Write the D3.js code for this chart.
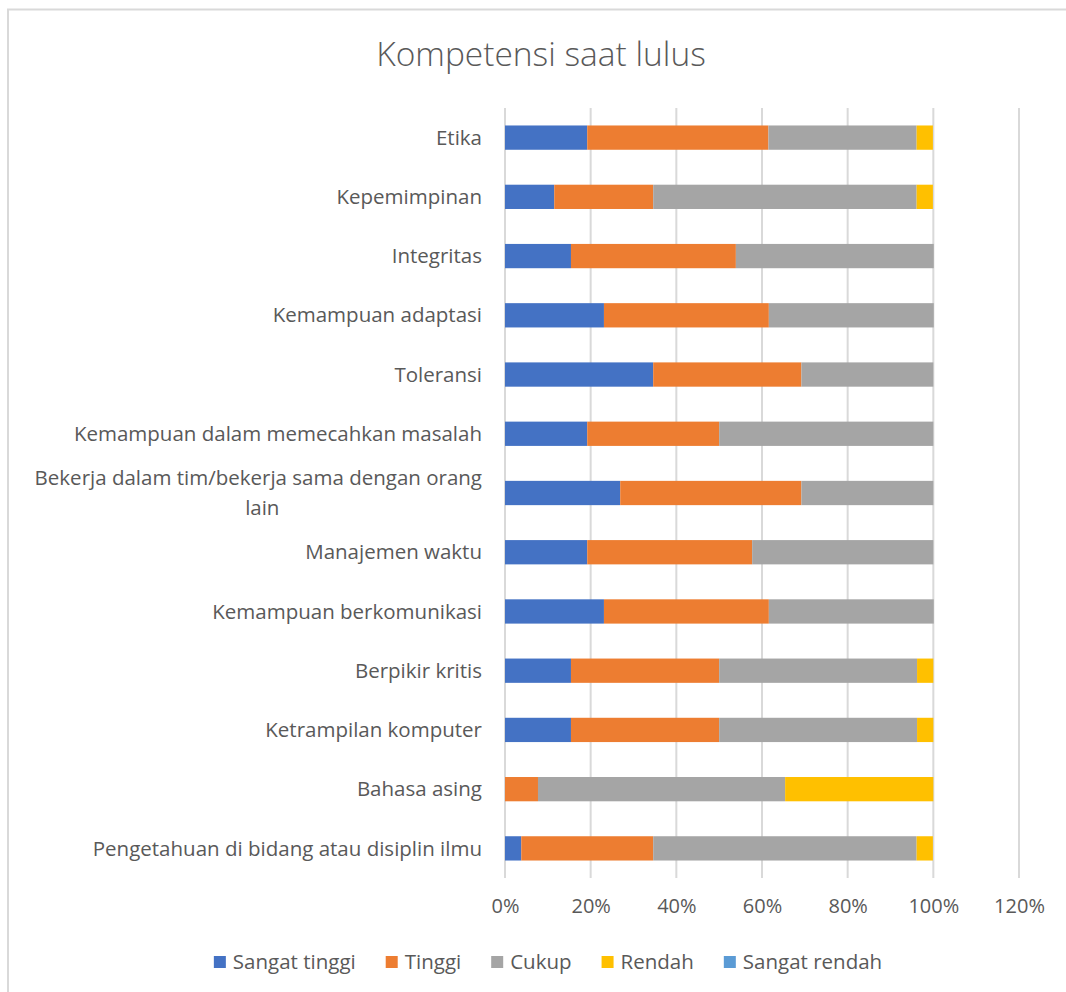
<!DOCTYPE html>
<html>
<head>
    <meta charset="utf-8">
    <title>Kompetensi saat lulus</title>
    <script src="https://d3js.org/d3.v7.min.js"></script>
    <style>
        body { margin: 0; background: #fff; }
        text { font-family: "Open Sans", "Noto Sans", sans-serif; fill: #595959; }
    </style>
</head>
<body>
<div id="chart"></div>

<script type="text/javascript">
    // categories, top to bottom
    let categories = [
        "Etika",
        "Kepemimpinan",
        "Integritas",
        "Kemampuan adaptasi",
        "Toleransi",
        "Kemampuan dalam memecahkan masalah",
        "Bekerja dalam tim/bekerja sama dengan orang lain",
        "Manajemen waktu",
        "Kemampuan berkomunikasi",
        "Berpikir kritis",
        "Ketrampilan komputer",
        "Bahasa asing",
        "Pengetahuan di bidang atau disiplin ilmu"
    ];

    let seriesNames = ["Sangat tinggi", "Tinggi", "Cukup", "Rendah", "Sangat rendah"];
    let seriesColors = ["#4472C4", "#ED7D31", "#A5A5A5", "#FFC000", "#5B9BD5"];

    // values in percent, same order as categories
    let sangatTinggi = [19.2, 11.5, 15.4, 23.1, 34.6, 19.2, 26.9, 19.2, 23.1, 15.4, 15.4, 0, 3.8];
    let tinggi       = [42.3, 23.1, 38.5, 38.5, 34.6, 30.8, 42.3, 38.5, 38.5, 34.6, 34.6, 7.7, 30.8];
    let cukup        = [34.6, 61.5, 46.2, 38.5, 30.8, 50.0, 30.8, 42.3, 38.5, 46.2, 46.2, 57.7, 61.5];
    let rendah       = [3.8, 3.8, 0, 0, 0, 0, 0, 0, 0, 3.8, 3.8, 34.6, 3.8];
    let sangatRendah = [0, 0, 0, 0, 0, 0, 0, 0, 0, 0, 0, 0, 0];

    let tickValues = [0, 20, 40, 60, 80, 100, 120];

    let W = 1066, H = 992;
    let margin = {top: 108, left: 505, right: 47, bottom: 114};

    let svg = d3.select("#chart")
        .append("svg")
            .attr("width", W)
            .attr("height", H);

    // outer chart border
    svg.append("rect")
        .attr("x", 8)
        .attr("y", 9.5)
        .attr("width", W + 20)
        .attr("height", H + 20)
        .attr("fill", "none")
        .attr("stroke", "#d9d9d9")
        .attr("stroke-width", 2);

    svg.append("text")
        .attr("x", 541)
        .attr("y", 66)
        .attr("text-anchor", "middle")
        .attr("font-size", "33.5px")
        .attr("font-weight", 300)
        .text("Kompetensi saat lulus");

    let data = categories.map(function (c, i) {
        return {
            cat: c,
            "Sangat tinggi": sangatTinggi[i],
            "Tinggi": tinggi[i],
            "Cukup": cukup[i],
            "Rendah": rendah[i],
            "Sangat rendah": sangatRendah[i]
        };
    });

    let stacked = d3.stack().keys(seriesNames)(data);

    let xScale = d3.scaleLinear()
        .domain([0, 120])
        .range([margin.left, W - margin.right]);

    let yScale = d3.scaleBand()
        .domain(categories)
        .range([margin.top, H - margin.bottom])
        .paddingInner(0.59)
        .paddingOuter(0.295);

    let color = d3.scaleOrdinal().domain(seriesNames).range(seriesColors);

    // gridlines
    svg.append("g")
        .selectAll("line")
        .data(tickValues)
        .enter()
        .append("line")
            .attr("x1", function (d) { return xScale(d); })
            .attr("x2", function (d) { return xScale(d); })
            .attr("y1", margin.top)
            .attr("y2", H - margin.bottom)
            .attr("stroke", "#d9d9d9")
            .attr("stroke-width", 2);

    // bars
    svg.append("g")
        .selectAll("g")
        .data(stacked)
        .enter()
        .append("g")
            .attr("fill", function (d) { return color(d.key); })
        .selectAll("rect")
        .data(function (d) { return d; })
        .enter()
        .append("rect")
            .attr("x", function (d) { return xScale(d[0]); })
            .attr("y", function (d) { return yScale(d.data.cat); })
            .attr("width", function (d) { return xScale(d[1]) - xScale(d[0]); })
            .attr("height", yScale.bandwidth());

    // x axis labels
    let xAxis = d3.axisBottom(xScale)
        .tickValues(tickValues)
        .tickSize(0)
        .tickPadding(0)
        .tickFormat(function (d) { return d + "%"; });

    let gx = svg.append("g")
        .attr("transform", "translate(0," + (H - margin.bottom + 21) + ")")
        .call(xAxis);
    gx.select(".domain").remove();
    gx.selectAll("text")
        .attr("font-size", "20px")
        .attr("fill", "#595959")
        .style("font-family", "'Open Sans', sans-serif");

    // category labels, wrapped like Excel when too long
    let labelRight = 482;
    let maxLabelWidth = 462;
    let fontSize = 20.5;
    let labels = svg.append("g")
        .attr("font-size", fontSize + "px");

    categories.forEach(function (c) {
        let cy = yScale(c) + yScale.bandwidth() / 2;
        let t = labels.append("text")
            .attr("x", labelRight)
            .attr("y", cy)
            .attr("dy", "0.35em")
            .attr("text-anchor", "end")
            .text(c);
        if (t.node().getComputedTextLength() > maxLabelWidth) {
            let words = c.split(" ");
            let last = words.pop();
            t.text(words.join(" "));
            let w1 = t.node().getComputedTextLength();
            t.attr("y", cy - 15);
            labels.append("text")
                .attr("x", labelRight - w1 / 2 + 4)
                .attr("y", cy + 15)
                .attr("dy", "0.35em")
                .attr("text-anchor", "middle")
                .text(last);
        }
    });

    // legend
    let legend = svg.append("g")
        .attr("font-size", "20.5px");
    let items = legend.selectAll("g")
        .data(seriesNames)
        .enter()
        .append("g");
    items.append("rect")
        .attr("width", 12)
        .attr("height", 12)
        .attr("y", -6)
        .attr("fill", function (d) { return color(d); });
    items.append("text")
        .attr("x", 19)
        .attr("dy", "0.35em")
        .text(function (d) { return d; });

    let gap = 30;
    let xPos = 0;
    let offsets = [];
    items.each(function () {
        offsets.push(xPos);
        xPos += 19 + d3.select(this).select("text").node().getComputedTextLength() + gap;
    });
    let total = xPos - gap;
    let startX = 548 - total / 2;
    items.attr("transform", function (d, i) {
        return "translate(" + (startX + offsets[i]) + ",962)";
    });
</script>
</body>
</html>
